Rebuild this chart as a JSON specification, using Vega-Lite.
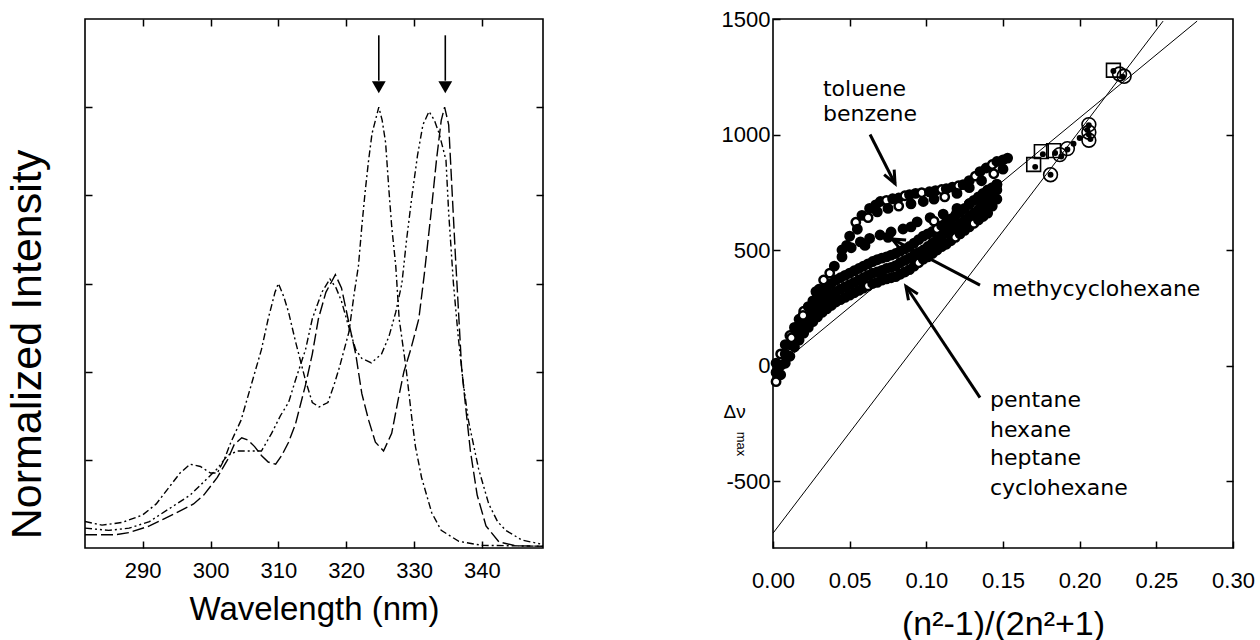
{
 "$schema": "https://vega.github.io/schema/vega-lite/v6.json",
 "background": "white",
 "padding": {"left": 5, "top": 7, "right": 5, "bottom": 5},
 "spacing": 175,
 "config": {
  "view": {"stroke": "black", "strokeWidth": 1.6},
  "axis": {"grid": false, "domain": false, "tickColor": "black", "tickSize": -7, "tickWidth": 1.5,
           "labelColor": "black", "titleColor": "black", "labelFont": "Liberation Sans", "titleFont": "Liberation Sans",
           "titleFontWeight": "normal", "labelFontSize": 22, "labelFlush": false, "labelOverlap": false}
 },
 "datasets": {
  "spectra": [
   {"c":"A","w":281.5,"v":0.06},{"c":"A","w":284,"v":0.052},{"c":"A","w":287,"v":0.058},{"c":"A","w":290,"v":0.075},{"c":"A","w":292,"v":0.10},{"c":"A","w":294,"v":0.14},{"c":"A","w":295.5,"v":0.17},{"c":"A","w":297,"v":0.19},{"c":"A","w":298.5,"v":0.185},{"c":"A","w":300,"v":0.17},{"c":"A","w":301,"v":0.17},{"c":"A","w":302,"v":0.20},{"c":"A","w":303,"v":0.24},{"c":"A","w":304.5,"v":0.29},{"c":"A","w":306,"v":0.37},{"c":"A","w":307.5,"v":0.45},{"c":"A","w":308.5,"v":0.52},{"c":"A","w":309.5,"v":0.58},{"c":"A","w":310,"v":0.60},{"c":"A","w":310.8,"v":0.57},{"c":"A","w":311.5,"v":0.535},{"c":"A","w":312.5,"v":0.47},{"c":"A","w":313,"v":0.44},{"c":"A","w":314,"v":0.38},{"c":"A","w":315,"v":0.33},{"c":"A","w":316,"v":0.32},{"c":"A","w":317.3,"v":0.33},{"c":"A","w":318.2,"v":0.37},{"c":"A","w":319,"v":0.41},{"c":"A","w":320.4,"v":0.49},{"c":"A","w":321.2,"v":0.58},{"c":"A","w":321.8,"v":0.64},{"c":"A","w":322.3,"v":0.73},{"c":"A","w":322.8,"v":0.81},{"c":"A","w":323.3,"v":0.88},{"c":"A","w":323.8,"v":0.94},{"c":"A","w":324.8,"v":1.0},{"c":"A","w":325.3,"v":0.97},{"c":"A","w":325.8,"v":0.92},{"c":"A","w":326.3,"v":0.81},{"c":"A","w":326.7,"v":0.73},{"c":"A","w":327.3,"v":0.64},{"c":"A","w":327.8,"v":0.52},{"c":"A","w":328.8,"v":0.41},{"c":"A","w":329.7,"v":0.29},{"c":"A","w":330.2,"v":0.23},{"c":"A","w":331.1,"v":0.16},{"c":"A","w":332.6,"v":0.08},{"c":"A","w":334,"v":0.04},{"c":"A","w":336.6,"v":0.015},{"c":"A","w":340,"v":0.006},{"c":"A","w":349,"v":0.004},
   {"c":"B","w":281.5,"v":0.03},{"c":"B","w":284,"v":0.03},{"c":"B","w":286,"v":0.03},{"c":"B","w":288,"v":0.035},{"c":"B","w":291,"v":0.05},{"c":"B","w":293,"v":0.065},{"c":"B","w":295,"v":0.08},{"c":"B","w":297.5,"v":0.10},{"c":"B","w":299,"v":0.12},{"c":"B","w":301,"v":0.16},{"c":"B","w":302.5,"v":0.20},{"c":"B","w":303.5,"v":0.235},{"c":"B","w":304.6,"v":0.25},{"c":"B","w":305.5,"v":0.245},{"c":"B","w":306.5,"v":0.23},{"c":"B","w":307.5,"v":0.21},{"c":"B","w":308.5,"v":0.195},{"c":"B","w":309.6,"v":0.19},{"c":"B","w":310.5,"v":0.21},{"c":"B","w":311.5,"v":0.24},{"c":"B","w":312.5,"v":0.28},{"c":"B","w":314,"v":0.37},{"c":"B","w":315,"v":0.44},{"c":"B","w":315.9,"v":0.52},{"c":"B","w":317,"v":0.58},{"c":"B","w":318.4,"v":0.62},{"c":"B","w":319.3,"v":0.59},{"c":"B","w":320.4,"v":0.51},{"c":"B","w":321.4,"v":0.44},{"c":"B","w":322.3,"v":0.35},{"c":"B","w":323.3,"v":0.29},{"c":"B","w":324.3,"v":0.24},{"c":"B","w":325.5,"v":0.22},{"c":"B","w":326.7,"v":0.26},{"c":"B","w":327.7,"v":0.34},{"c":"B","w":328.5,"v":0.40},{"c":"B","w":329.5,"v":0.45},{"c":"B","w":330.7,"v":0.52},{"c":"B","w":331.5,"v":0.62},{"c":"B","w":332.5,"v":0.76},{"c":"B","w":333.3,"v":0.88},{"c":"B","w":334,"v":0.97},{"c":"B","w":334.5,"v":1.0},{"c":"B","w":335.1,"v":0.96},{"c":"B","w":335.6,"v":0.81},{"c":"B","w":336.1,"v":0.66},{"c":"B","w":336.5,"v":0.55},{"c":"B","w":337,"v":0.41},{"c":"B","w":337.6,"v":0.32},{"c":"B","w":338.3,"v":0.22},{"c":"B","w":339.3,"v":0.12},{"c":"B","w":340.6,"v":0.05},{"c":"B","w":342.5,"v":0.014},{"c":"B","w":345,"v":0.005},{"c":"B","w":349,"v":0.004},
   {"c":"C","w":281.5,"v":0.045},{"c":"C","w":285,"v":0.04},{"c":"C","w":288,"v":0.045},{"c":"C","w":291,"v":0.06},{"c":"C","w":294,"v":0.09},{"c":"C","w":297,"v":0.12},{"c":"C","w":299,"v":0.15},{"c":"C","w":301,"v":0.18},{"c":"C","w":302.5,"v":0.21},{"c":"C","w":304,"v":0.22},{"c":"C","w":305.5,"v":0.22},{"c":"C","w":307.5,"v":0.22},{"c":"C","w":309,"v":0.26},{"c":"C","w":310.3,"v":0.30},{"c":"C","w":311.5,"v":0.33},{"c":"C","w":312.5,"v":0.38},{"c":"C","w":314,"v":0.45},{"c":"C","w":315,"v":0.52},{"c":"C","w":316.4,"v":0.58},{"c":"C","w":317.6,"v":0.61},{"c":"C","w":318.5,"v":0.59},{"c":"C","w":319.3,"v":0.56},{"c":"C","w":320.4,"v":0.50},{"c":"C","w":321.4,"v":0.45},{"c":"C","w":322.3,"v":0.43},{"c":"C","w":323.7,"v":0.42},{"c":"C","w":325.2,"v":0.44},{"c":"C","w":326.3,"v":0.48},{"c":"C","w":327.3,"v":0.535},{"c":"C","w":328.2,"v":0.60},{"c":"C","w":328.9,"v":0.70},{"c":"C","w":329.7,"v":0.80},{"c":"C","w":330.5,"v":0.89},{"c":"C","w":331.3,"v":0.96},{"c":"C","w":332.2,"v":0.99},{"c":"C","w":333,"v":0.97},{"c":"C","w":333.7,"v":0.94},{"c":"C","w":334.7,"v":0.88},{"c":"C","w":335.1,"v":0.76},{"c":"C","w":335.8,"v":0.60},{"c":"C","w":336.5,"v":0.48},{"c":"C","w":337.2,"v":0.38},{"c":"C","w":338,"v":0.29},{"c":"C","w":339.5,"v":0.18},{"c":"C","w":341,"v":0.10},{"c":"C","w":342.3,"v":0.06},{"c":"C","w":343.5,"v":0.04},{"c":"C","w":345.9,"v":0.018},{"c":"C","w":349,"v":0.008}
  ],
  "arrowsL": [
   {"w":324.8,"y1":1.163,"y2":1.06,"yh":1.045},
   {"w":334.6,"y1":1.163,"y2":1.06,"yh":1.045}
  ],
  "cloud": [
   {"x":0.002,"y":-70,"t":"o"},{"x":0.002,"y":-30,"t":"f"},{"x":0.002,"y":10,"t":"f"},
   {"x":0.005,"y":-40,"t":"f"},{"x":0.005,"y":0,"t":"f"},{"x":0.005,"y":50,"t":"o"},
   {"x":0.008,"y":10,"t":"f"},{"x":0.008,"y":50,"t":"f"},{"x":0.008,"y":90,"t":"f"},
   {"x":0.011,"y":40,"t":"f"},{"x":0.011,"y":90,"t":"f"},{"x":0.011,"y":130,"t":"o"},
   {"x":0.014,"y":80,"t":"f"},{"x":0.014,"y":125,"t":"f"},{"x":0.014,"y":165,"t":"f"},
   {"x":0.017,"y":110,"t":"f"},{"x":0.017,"y":155,"t":"f"},{"x":0.017,"y":200,"t":"f"},
   {"x":0.020,"y":140,"t":"f"},{"x":0.020,"y":180,"t":"f"},{"x":0.020,"y":235,"t":"o"},
   {"x":0.023,"y":165,"t":"f"},{"x":0.023,"y":210,"t":"f"},{"x":0.023,"y":255,"t":"f"},
   {"x":0.026,"y":190,"t":"f"},{"x":0.026,"y":235,"t":"f"},{"x":0.026,"y":280,"t":"f"},
   {"x":0.029,"y":210,"t":"f"},{"x":0.029,"y":255,"t":"f"},{"x":0.029,"y":300,"t":"f"},
   {"x":0.032,"y":230,"t":"f"},{"x":0.032,"y":275,"t":"f"},{"x":0.032,"y":320,"t":"f"},
   {"x":0.035,"y":245,"t":"f"},{"x":0.035,"y":290,"t":"f"},{"x":0.035,"y":340,"t":"f"},
   {"x":0.038,"y":260,"t":"f"},{"x":0.038,"y":305,"t":"f"},{"x":0.038,"y":355,"t":"f"},
   {"x":0.041,"y":275,"t":"f"},{"x":0.041,"y":320,"t":"f"},{"x":0.041,"y":370,"t":"f"},
   {"x":0.044,"y":285,"t":"f"},{"x":0.044,"y":330,"t":"f"},{"x":0.044,"y":380,"t":"f"},
   {"x":0.047,"y":295,"t":"f"},{"x":0.047,"y":340,"t":"f"},{"x":0.047,"y":390,"t":"f"},
   {"x":0.050,"y":305,"t":"f"},{"x":0.050,"y":350,"t":"f"},{"x":0.050,"y":400,"t":"f"},
   {"x":0.053,"y":315,"t":"f"},{"x":0.053,"y":360,"t":"f"},{"x":0.053,"y":410,"t":"f"},
   {"x":0.056,"y":325,"t":"f"},{"x":0.056,"y":370,"t":"f"},{"x":0.056,"y":420,"t":"f"},
   {"x":0.059,"y":335,"t":"f"},{"x":0.059,"y":380,"t":"f"},{"x":0.059,"y":430,"t":"f"},
   {"x":0.062,"y":345,"t":"o"},{"x":0.062,"y":390,"t":"f"},{"x":0.062,"y":440,"t":"f"},
   {"x":0.065,"y":355,"t":"f"},{"x":0.065,"y":400,"t":"f"},{"x":0.065,"y":450,"t":"f"},
   {"x":0.068,"y":360,"t":"f"},{"x":0.068,"y":405,"t":"f"},{"x":0.068,"y":458,"t":"f"},
   {"x":0.071,"y":370,"t":"f"},{"x":0.071,"y":412,"t":"f"},{"x":0.071,"y":465,"t":"f"},
   {"x":0.074,"y":375,"t":"f"},{"x":0.074,"y":420,"t":"f"},{"x":0.074,"y":470,"t":"f"},
   {"x":0.077,"y":380,"t":"f"},{"x":0.077,"y":425,"t":"f"},{"x":0.077,"y":478,"t":"f"},
   {"x":0.080,"y":385,"t":"f"},{"x":0.080,"y":432,"t":"f"},{"x":0.080,"y":485,"t":"f"},
   {"x":0.083,"y":395,"t":"f"},{"x":0.083,"y":445,"t":"f"},{"x":0.083,"y":495,"t":"f"},
   {"x":0.086,"y":405,"t":"f"},{"x":0.086,"y":455,"t":"f"},{"x":0.086,"y":505,"t":"f"},
   {"x":0.089,"y":415,"t":"f"},{"x":0.089,"y":465,"t":"f"},{"x":0.089,"y":515,"t":"f"},
   {"x":0.092,"y":430,"t":"f"},{"x":0.092,"y":478,"t":"f"},{"x":0.092,"y":530,"t":"f"},
   {"x":0.095,"y":445,"t":"o"},{"x":0.095,"y":490,"t":"f"},{"x":0.095,"y":545,"t":"f"},
   {"x":0.098,"y":460,"t":"f"},{"x":0.098,"y":500,"t":"f"},{"x":0.098,"y":560,"t":"f"},
   {"x":0.101,"y":470,"t":"f"},{"x":0.101,"y":515,"t":"f"},{"x":0.101,"y":570,"t":"f"},
   {"x":0.104,"y":485,"t":"f"},{"x":0.104,"y":530,"t":"f"},{"x":0.104,"y":580,"t":"f"},
   {"x":0.107,"y":500,"t":"f"},{"x":0.107,"y":545,"t":"f"},{"x":0.107,"y":592,"t":"o"},
   {"x":0.110,"y":515,"t":"f"},{"x":0.110,"y":560,"t":"f"},{"x":0.110,"y":605,"t":"f"},
   {"x":0.113,"y":525,"t":"f"},{"x":0.113,"y":575,"t":"f"},{"x":0.113,"y":620,"t":"f"},
   {"x":0.116,"y":540,"t":"f"},{"x":0.116,"y":590,"t":"f"},{"x":0.116,"y":635,"t":"f"},
   {"x":0.119,"y":555,"t":"o"},{"x":0.119,"y":600,"t":"f"},{"x":0.119,"y":650,"t":"f"},
   {"x":0.122,"y":570,"t":"f"},{"x":0.122,"y":615,"t":"f"},{"x":0.122,"y":665,"t":"f"},
   {"x":0.125,"y":585,"t":"f"},{"x":0.125,"y":630,"t":"f"},{"x":0.125,"y":680,"t":"f"},
   {"x":0.128,"y":600,"t":"f"},{"x":0.128,"y":645,"t":"f"},{"x":0.128,"y":700,"t":"f"},
   {"x":0.131,"y":615,"t":"o"},{"x":0.131,"y":660,"t":"f"},{"x":0.131,"y":715,"t":"f"},
   {"x":0.134,"y":630,"t":"f"},{"x":0.134,"y":675,"t":"f"},{"x":0.134,"y":730,"t":"f"},
   {"x":0.137,"y":645,"t":"f"},{"x":0.137,"y":690,"t":"f"},{"x":0.137,"y":745,"t":"f"},
   {"x":0.140,"y":660,"t":"f"},{"x":0.140,"y":705,"t":"f"},{"x":0.140,"y":760,"t":"f"},
   {"x":0.143,"y":690,"t":"f"},{"x":0.143,"y":730,"t":"f"},{"x":0.143,"y":770,"t":"f"},
   {"x":0.146,"y":720,"t":"f"},{"x":0.146,"y":760,"t":"f"},{"x":0.146,"y":785,"t":"f"},
   {"x":0.030,"y":330,"t":"f"},{"x":0.037,"y":400,"t":"o"},{"x":0.045,"y":470,"t":"f"},{"x":0.051,"y":510,"t":"f"},{"x":0.057,"y":535,"t":"f"},{"x":0.063,"y":550,"t":"f"},{"x":0.0698,"y":565,"t":"f"},{"x":0.077,"y":578,"t":"f"},{"x":0.0848,"y":591,"t":"f"},{"x":0.094,"y":622,"t":"f"},{"x":0.1025,"y":640,"t":"f"},{"x":0.111,"y":655,"t":"f"},{"x":0.120,"y":680,"t":"f"},{"x":0.128,"y":700,"t":"f"},{"x":0.137,"y":740,"t":"f"},{"x":0.146,"y":783,"t":"f"},
   {"x":0.060,"y":520,"t":"f"},{"x":0.075,"y":555,"t":"f"},{"x":0.090,"y":600,"t":"f"},{"x":0.105,"y":625,"t":"o"},{"x":0.120,"y":665,"t":"f"},{"x":0.135,"y":715,"t":"f"},
   {"x":0.012,"y":120,"t":"o"},{"x":0.0196,"y":217,"t":"o"},{"x":0.028,"y":320,"t":"f"},{"x":0.033,"y":370,"t":"o"},
   {"x":0.045,"y":500,"t":"f"},{"x":0.050,"y":560,"t":"f"},{"x":0.054,"y":620,"t":"o"},{"x":0.058,"y":650,"t":"f"},{"x":0.063,"y":680,"t":"f"},{"x":0.067,"y":695,"t":"f"},{"x":0.070,"y":710,"t":"f"},{"x":0.074,"y":715,"t":"o"},{"x":0.078,"y":722,"t":"f"},{"x":0.082,"y":725,"t":"f"},{"x":0.086,"y":735,"t":"o"},{"x":0.089,"y":740,"t":"f"},{"x":0.093,"y":745,"t":"f"},{"x":0.097,"y":748,"t":"o"},{"x":0.102,"y":752,"t":"f"},{"x":0.106,"y":757,"t":"f"},{"x":0.110,"y":762,"t":"o"},{"x":0.113,"y":765,"t":"f"},{"x":0.117,"y":772,"t":"f"},{"x":0.121,"y":778,"t":"o"},{"x":0.124,"y":783,"t":"f"},{"x":0.128,"y":800,"t":"f"},{"x":0.132,"y":820,"t":"o"},{"x":0.135,"y":839,"t":"f"},{"x":0.139,"y":855,"t":"f"},{"x":0.143,"y":870,"t":"o"},{"x":0.146,"y":883,"t":"f"},{"x":0.150,"y":890,"t":"f"},{"x":0.153,"y":898,"t":"f"},
   {"x":0.040,"y":430,"t":"f"},{"x":0.048,"y":520,"t":"f"},{"x":0.055,"y":590,"t":"f"},{"x":0.062,"y":640,"t":"o"},{"x":0.068,"y":665,"t":"f"},{"x":0.075,"y":680,"t":"f"},{"x":0.082,"y":690,"t":"o"},{"x":0.090,"y":700,"t":"f"},{"x":0.098,"y":710,"t":"f"},{"x":0.105,"y":720,"t":"f"},{"x":0.112,"y":730,"t":"o"},{"x":0.120,"y":745,"t":"f"},{"x":0.128,"y":770,"t":"f"},{"x":0.136,"y":800,"t":"f"},{"x":0.144,"y":830,"t":"o"},{"x":0.150,"y":850,"t":"f"}
  ],
  "bulk": [
   {"x":0.170,"y":870,"s":"square"},{"x":0.175,"y":926,"s":"square"},{"x":0.183,"y":930,"s":"square"},{"x":0.222,"y":1278,"s":"square"},
   {"x":0.181,"y":826,"s":"circle"},{"x":0.187,"y":913,"s":"circle"},{"x":0.192,"y":939,"s":"circle"},{"x":0.206,"y":1043,"s":"circle"},{"x":0.206,"y":1010,"s":"circle"},{"x":0.206,"y":975,"s":"circle"},{"x":0.229,"y":1252,"s":"circle"},{"x":0.226,"y":1262,"s":"circle"}
  ],
  "dots": [
   {"x":0.171,"y":860},{"x":0.176,"y":915},{"x":0.184,"y":920},{"x":0.181,"y":826},{"x":0.188,"y":905},{"x":0.192,"y":935},{"x":0.206,"y":1040},{"x":0.206,"y":1000},{"x":0.207,"y":980},{"x":0.205,"y":1020},{"x":0.228,"y":1250},{"x":0.222,"y":1275},{"x":0.196,"y":960},{"x":0.200,"y":985}
  ],
  "fits": [
   {"f":"L1","x":0,"y":-726},{"f":"L1","x":0.2544,"y":1491},
   {"f":"L2","x":0,"y":-21},{"f":"L2","x":0.2766,"y":1491}
  ],
  "labels": [
   {"x":0.0326,"y":1196,"t":"toluene"},{"x":0.0326,"y":1087,"t":"benzene"},{"x":0.1428,"y":330,"t":"methycyclohexane"},
   {"x":0.1415,"y":-148,"t":"pentane"},{"x":0.1415,"y":-278,"t":"hexane"},{"x":0.1415,"y":-400,"t":"heptane"},{"x":0.1415,"y":-530,"t":"cyclohexane"}
  ],
  "ytitle": [
   {"x":-0.025,"y":-200,"t":"Δν","a":0,"s":19},
   {"x":-0.021,"y":-340,"t":"max","a":90,"s":13}
  ],
  "arrowsR": [
   {"x1":0.0633,"y1":1000,"x2":0.0796,"y2":787,"a":333},
   {"x1":0.135,"y1":348,"x2":0.0776,"y2":548,"a":117.6},
   {"x1":0.135,"y1":-139,"x2":0.0867,"y2":343,"a":146.3}
  ]
 },
 "hconcat": [
  {
   "width": 458, "height": 529,
   "layer": [
    {"data": {"name": "spectra"},
     "mark": {"type": "line", "strokeWidth": 1.4, "color": "black", "clip": true},
     "encoding": {
      "x": {"field": "w", "type": "quantitative", "scale": {"domain": [281.5, 349], "nice": false, "zero": false},
            "axis": {"orient": "bottom", "values": [290,300,310,320,330,340], "title": "Wavelength (nm)", "titleFontSize": 33, "labelPadding": 19, "titlePadding": 12}},
      "y": {"field": "v", "type": "quantitative", "scale": {"domain": [0, 1.2], "nice": false},
            "axis": {"orient": "left", "values": [0.2,0.4,0.6,0.8,1.0], "labels": false, "title": "Normalized Intensity", "titleFontSize": 43, "titlePadding": 35, "titleY": 325}},
      "strokeDash": {"field": "c", "type": "nominal", "scale": {"domain": ["A","B","C"], "range": [[7,3,2,3],[12,4],[7,3,2,3,2,3]]}, "legend": null}
     }},
    {"data": {"name": "arrowsL"},
     "mark": {"type": "rule", "strokeWidth": 1.6, "color": "black"},
     "encoding": {
      "x": {"field": "w", "type": "quantitative", "axis": {"orient": "top", "values": [290,300,310,320,330,340], "labels": false, "title": null}},
      "y": {"field": "y1", "type": "quantitative", "axis": {"orient": "right", "values": [0.2,0.4,0.6,0.8,1.0], "labels": false, "title": null}},
      "y2": {"field": "y2"}
     }},
    {"data": {"name": "arrowsL"},
     "mark": {"type": "point", "shape": "triangle-down", "filled": true, "color": "black", "size": 190, "opacity": 1},
     "encoding": {
      "x": {"field": "w", "type": "quantitative", "axis": null},
      "y": {"field": "yh", "type": "quantitative", "axis": null}
     }}
   ]
  },
  {
   "width": 460, "height": 529,
   "layer": [
    {"data": {"name": "fits"},
     "mark": {"type": "line", "strokeWidth": 1, "color": "black", "clip": true},
     "encoding": {
      "x": {"field": "x", "type": "quantitative", "scale": {"domain": [0, 0.3], "nice": false},
            "axis": {"orient": "bottom", "values": [0,0.05,0.1,0.15,0.2,0.25,0.3], "format": ".2f", "title": "(n²-1)/(2n²+1)", "titleFontSize": 34, "labelPadding": 29, "titlePadding": 16}},
      "y": {"field": "y", "type": "quantitative", "scale": {"domain": [-790, 1500], "nice": false},
            "axis": {"orient": "left", "values": [-500,0,500,1000,1500], "labelExpr": "'' + datum.value", "labelPadding": 10, "title": null}},
      "detail": {"field": "f", "type": "nominal"}
     }},
    {"data": {"name": "cloud"},
     "mark": {"type": "point", "shape": "circle", "size": 70, "strokeWidth": 2.5, "opacity": 1, "color": "black"},
     "encoding": {
      "x": {"field": "x", "type": "quantitative", "axis": {"orient": "top", "values": [0.05,0.1,0.15,0.2,0.25], "labels": false, "title": null}},
      "y": {"field": "y", "type": "quantitative", "axis": {"orient": "right", "values": [-500,0,500,1000], "labels": false, "title": null}},
      "fill": {"field": "t", "type": "nominal", "scale": {"domain": ["f","o"], "range": ["black","white"]}, "legend": null}
     }},
    {"data": {"name": "bulk"},
     "mark": {"type": "point", "size": 190, "strokeWidth": 1.6, "color": "black", "filled": false, "opacity": 1},
     "encoding": {
      "x": {"field": "x", "type": "quantitative", "axis": null},
      "y": {"field": "y", "type": "quantitative", "axis": null},
      "shape": {"field": "s", "type": "nominal", "scale": {"domain": ["square","circle"], "range": ["square","circle"]}, "legend": null}
     }},
    {"data": {"name": "dots"},
     "mark": {"type": "point", "shape": "circle", "size": 35, "filled": true, "color": "black", "opacity": 1},
     "encoding": {
      "x": {"field": "x", "type": "quantitative", "axis": null},
      "y": {"field": "y", "type": "quantitative", "axis": null}
     }},
    {"data": {"name": "arrowsR"},
     "mark": {"type": "rule", "strokeWidth": 3, "color": "black"},
     "encoding": {
      "x": {"field": "x1", "type": "quantitative", "axis": null},
      "y": {"field": "y1", "type": "quantitative", "axis": null},
      "x2": {"field": "x2"},
      "y2": {"field": "y2"}
     }},
    {"data": {"name": "arrowsR"},
     "mark": {"type": "point", "shape": "M -0.65 -1.5 L 0 0 L 0.65 -1.5", "filled": false, "size": 300, "strokeWidth": 3, "color": "black", "opacity": 1},
     "encoding": {
      "x": {"field": "x2", "type": "quantitative", "axis": null},
      "y": {"field": "y2", "type": "quantitative", "axis": null},
      "angle": {"field": "a", "type": "quantitative", "scale": null}
     }},
    {"data": {"name": "labels"},
     "mark": {"type": "text", "align": "left", "baseline": "middle", "font": "DejaVu Sans", "fontSize": 22, "color": "black"},
     "encoding": {
      "x": {"field": "x", "type": "quantitative", "axis": null},
      "y": {"field": "y", "type": "quantitative", "axis": null},
      "text": {"field": "t"}
     }},
    {"data": {"name": "ytitle"},
     "mark": {"type": "text", "align": "center", "baseline": "middle", "font": "Liberation Sans", "color": "black"},
     "encoding": {
      "x": {"field": "x", "type": "quantitative", "axis": null},
      "y": {"field": "y", "type": "quantitative", "axis": null},
      "text": {"field": "t"},
      "angle": {"field": "a", "type": "quantitative", "scale": null},
      "size": {"field": "s", "type": "quantitative", "scale": null}
     }}
   ]
  }
 ]
}
